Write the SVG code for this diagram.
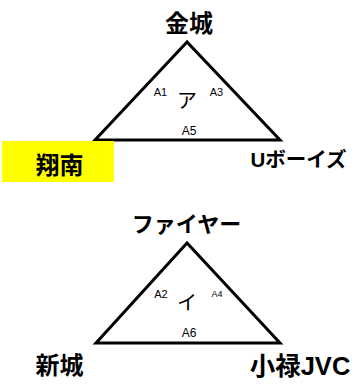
<svg xmlns="http://www.w3.org/2000/svg" width="358" height="384" viewBox="0 0 358 384">
<style>
.tri{fill:none;stroke:#000;stroke-width:3;stroke-linejoin:miter}
.big{font-family:"Liberation Sans","Noto Sans CJK JP",sans-serif;font-weight:bold;fill:#000}
.mid{font-family:"Liberation Sans","Noto Sans CJK JP",sans-serif;font-size:20px;fill:#000}
.sm{font-family:"Liberation Sans",sans-serif;fill:#000}
</style>
<rect width="358" height="384" fill="#fff"/>
<g id="connectors">
<polygon class="tri" points="187,42 95,140 280,140"/>
<polygon class="tri" points="187,243 96,343 280,343"/>
</g>
<g id="kinjo"><text class="big" x="189" y="32" font-size="24" text-anchor="middle">金城</text></g>
<g id="shonan"><rect x="2" y="141" width="112" height="41" fill="#ffff00"/><text class="big" x="59.5" y="174" font-size="24" text-anchor="middle">翔南</text></g>
<g id="uboys"><text class="big" x="298.5" y="167" font-size="20.5" text-anchor="middle">Uボーイズ</text></g>
<g id="a"><text class="mid" x="187" y="108" text-anchor="middle">ア</text>
<text class="sm" x="160.5" y="96" font-size="11" text-anchor="middle">A1</text>
<text class="sm" x="216.5" y="96" font-size="11" text-anchor="middle">A3</text>
<text class="sm" x="189" y="135" font-size="12" text-anchor="middle">A5</text></g>
<g id="fire"><text class="big" x="186.5" y="232" font-size="22" text-anchor="middle">ファイヤー</text></g>
<g id="i"><text class="mid" x="187" y="310" text-anchor="middle">イ</text>
<text class="sm" x="161" y="298" font-size="11" text-anchor="middle">A2</text>
<text class="sm" x="217" y="297" font-size="9" text-anchor="middle">A4</text>
<text class="sm" x="189" y="337" font-size="12" text-anchor="middle">A6</text></g>
<g id="shinjo"><text class="big" x="59.5" y="374" font-size="24" text-anchor="middle">新城</text></g>
<g id="oroku"><text class="big" x="300" y="375" font-size="25.5" text-anchor="middle">小禄JVC</text></g>
</svg>
